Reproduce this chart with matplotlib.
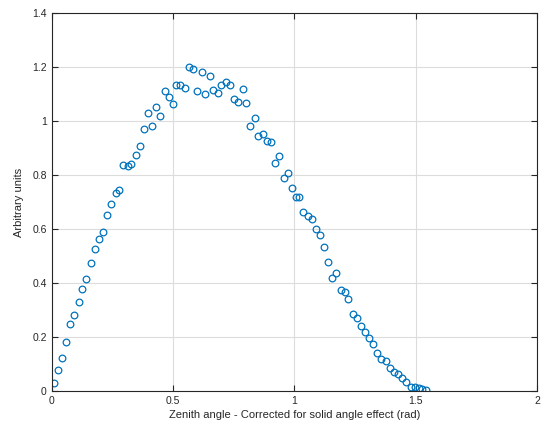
import matplotlib
matplotlib.use("Agg")
import matplotlib.pyplot as plt

plt.rcParams['font.family'] = ['Liberation Sans', 'DejaVu Sans']

zenith = [0.010, 0.027, 0.043, 0.060, 0.076, 0.094, 0.112, 0.127, 0.144, 0.161,
          0.179, 0.195, 0.211, 0.229, 0.246, 0.264, 0.280, 0.296, 0.314, 0.329,
          0.347, 0.363, 0.381, 0.398, 0.415, 0.431, 0.448, 0.466, 0.483, 0.499,
          0.513, 0.529, 0.548, 0.565, 0.584, 0.600, 0.618, 0.633, 0.651, 0.667,
          0.685, 0.699, 0.719, 0.736, 0.750, 0.767, 0.788, 0.803, 0.819, 0.837,
          0.852, 0.870, 0.888, 0.904, 0.921, 0.938, 0.956, 0.973, 0.989, 1.007,
          1.021, 1.037, 1.055, 1.073, 1.089, 1.106, 1.123, 1.140, 1.157, 1.174,
          1.192, 1.209, 1.223, 1.242, 1.257, 1.274, 1.290, 1.308, 1.324, 1.342,
          1.359, 1.377, 1.393, 1.411, 1.427, 1.445, 1.461, 1.479, 1.496, 1.513,
          1.527, 1.543]
intensity = [0.028, 0.078, 0.123, 0.180, 0.247, 0.281, 0.328, 0.378, 0.416, 0.474,
             0.525, 0.562, 0.588, 0.651, 0.694, 0.732, 0.746, 0.837, 0.834, 0.841,
             0.874, 0.909, 0.970, 1.028, 0.983, 1.051, 1.019, 1.112, 1.088, 1.064,
             1.133, 1.133, 1.122, 1.200, 1.193, 1.110, 1.180, 1.101, 1.168, 1.115,
             1.105, 1.133, 1.143, 1.133, 1.080, 1.071, 1.119, 1.068, 0.983, 1.011,
             0.946, 0.952, 0.927, 0.921, 0.846, 0.870, 0.788, 0.806, 0.751, 0.720,
             0.720, 0.664, 0.649, 0.636, 0.600, 0.577, 0.535, 0.479, 0.417, 0.436,
             0.374, 0.365, 0.341, 0.285, 0.269, 0.241, 0.220, 0.195, 0.174, 0.139,
             0.117, 0.111, 0.084, 0.069, 0.062, 0.047, 0.034, 0.016, 0.014, 0.010,
             0.007, 0.004]

xticks = [0, 0.5, 1, 1.5, 2]
xticklabels = ["0", "0.5", "1", "1.5", "2"]
yticks = [0, 0.2, 0.4, 0.6, 0.8, 1.0, 1.2, 1.4]
yticklabels = ["0", "0.2", "0.4", "0.6", "0.8", "1", "1.2", "1.4"]

fig = plt.figure(figsize=(5.41, 4.28), dpi=100)
ax = fig.add_axes([0.0952, 0.0864, 0.8974, 0.8832])
ax.plot(zenith, intensity, linestyle="none", marker="o", markersize=4.8,
        markerfacecolor="none", markeredgecolor="#0072BD", markeredgewidth=0.9)
ax.set_xlim(0, 2)
ax.set_ylim(0, 1.4)
ax.set_xticks(xticks)
ax.set_xticklabels(xticklabels)
ax.set_yticks(yticks)
ax.set_yticklabels(yticklabels)
ax.grid(True, color="#dcdcdc", linewidth=0.8)
ax.set_axisbelow(True)
ax.tick_params(direction="in", length=4, width=0.8, labelsize=7.5,
               colors="#262626", top=True, right=True, labeltop=False, labelright=False)
for s in ax.spines.values():
    s.set_color("#262626")
    s.set_linewidth(0.8)
ax.set_xlabel("Zenith angle - Corrected for solid angle effect (rad)", fontsize=8, color="#262626", labelpad=3)
ax.set_ylabel("Arbitrary units", fontsize=8, color="#262626", labelpad=6)
fig.savefig("out.png", dpi=100)
